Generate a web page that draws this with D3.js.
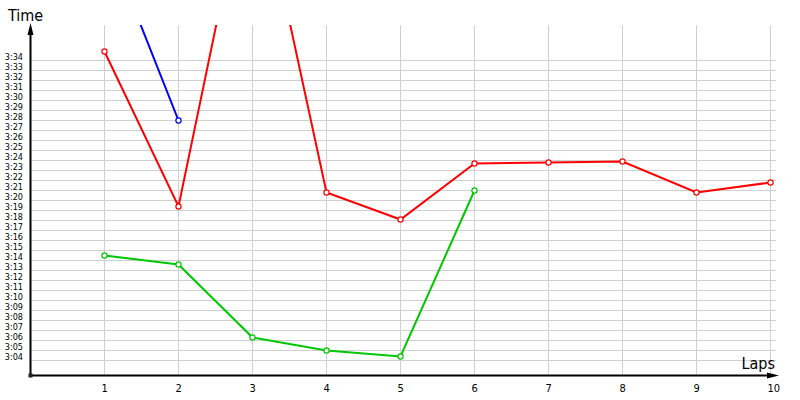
<!DOCTYPE html>
<html>
<head>
<meta charset="utf-8">
<script src="https://cdnjs.cloudflare.com/ajax/libs/d3/7.8.5/d3.min.js"></script>
<style>
  body { margin: 0; background: #fff; }
  text { font-family: "DejaVu Sans Condensed", "Liberation Sans", sans-serif; fill: #000; }
</style>
</head>
<body>
<script>
// lap times in seconds
const laps = [1, 2, 3, 4, 5, 6, 7, 8, 9, 10]
const redTimes = [214.9, 199.4, 235.0, 200.8, 198.1, 203.7, 203.8, 203.9, 200.8, 201.8]
const blueTimes = [226.7, 208.0]
const greenTimes = [194.5, 193.6, 186.3, 185.0, 184.4, 201.0]
const timeTicks = d3.range(184, 215)

const w = 800
const h = 400

const svg = d3.select("body")
  .append("svg")
  .attr("width", w)
  .attr("height", h)

const xScale = d3.scaleLinear()
  .domain([0, 10])
  .range([30.5, 770.5])

const yScale = d3.scaleLinear()
  .domain([182.5, 217.5])
  .range([375.5, 25.5])

const fmt = s => Math.floor(s / 60) + ":" + String(s % 60).padStart(2, "0")

// grid
svg.append("g")
  .selectAll("line")
  .data(timeTicks)
  .enter()
  .append("line")
  .attr("x1", 30)
  .attr("x2", 776)
  .attr("y1", d => yScale(d))
  .attr("y2", d => yScale(d))
  .attr("stroke", "#d0d0d0")

svg.append("g")
  .selectAll("line")
  .data(laps)
  .enter()
  .append("line")
  .attr("x1", d => xScale(d))
  .attr("x2", d => xScale(d))
  .attr("y1", 25)
  .attr("y2", 375)
  .attr("stroke", "#d0d0d0")

// y tick labels sit just above their grid line
svg.append("g")
  .selectAll("text")
  .data(timeTicks)
  .enter()
  .append("text")
  .attr("x", 23)
  .attr("y", d => yScale(d) - 1)
  .attr("text-anchor", "end")
  .style("font-size", "9px")
  .text(d => fmt(d))

svg.append("g")
  .selectAll("text")
  .data(laps)
  .enter()
  .append("text")
  .attr("x", d => xScale(d) - 3)
  .attr("y", 392)
  .style("font-size", "11px")
  .text(d => d)

// axes with arrows
svg.append("line")
  .attr("x1", 30.5).attr("x2", 770)
  .attr("y1", 375.5).attr("y2", 375.5)
  .attr("stroke", "#000")
  .attr("stroke-width", 2)
svg.append("line")
  .attr("x1", 30.5).attr("x2", 30.5)
  .attr("y1", 375.5).attr("y2", 30)
  .attr("stroke", "#000")
  .attr("stroke-width", 2)
svg.append("path")
  .attr("d", "M30.5,23 L27.5,35 L33.5,35 Z")
  .attr("fill", "#000")
svg.append("path")
  .attr("d", "M779,375.5 L767,372.5 L767,378.5 Z")
  .attr("fill", "#000")
svg.append("rect")
  .attr("x", 28.5).attr("y", 373.5)
  .attr("width", 4).attr("height", 4)
  .attr("fill", "#222")

svg.append("text")
  .attr("x", 8)
  .attr("y", 21)
  .style("font-size", "16px")
  .text("Time")

svg.append("text")
  .attr("x", 775)
  .attr("y", 369)
  .attr("text-anchor", "end")
  .style("font-size", "16px")
  .text("Laps")

// series, clipped to the plot area
svg.append("clipPath")
  .attr("id", "plot")
  .append("rect")
  .attr("x", 30).attr("y", 25)
  .attr("width", 750).attr("height", 350)

const series = [
  { color: "#ff0000", times: redTimes },
  { color: "#0000ff", times: blueTimes },
  { color: "#00c800", times: greenTimes }
]

const line = d3.line()
  .x((d, i) => xScale(laps[i]))
  .y(d => yScale(d))

const groups = svg.selectAll(".series")
  .data(series)
  .enter()
  .append("g")
  .attr("class", "series")
  .attr("clip-path", "url(#plot)")

groups.append("path")
  .attr("d", d => line(d.times))
  .attr("fill", "none")
  .attr("stroke", d => d.color)
  .attr("stroke-width", 2)

groups.each(function (s) {
  d3.select(this)
    .selectAll("circle")
    .data(s.times)
    .enter()
    .append("circle")
    .attr("cx", (d, i) => xScale(laps[i]))
    .attr("cy", d => yScale(d))
    .attr("r", 2.6)
    .attr("fill", "#fff")
    .attr("stroke", s.color)
    .attr("stroke-width", 1.2)
})
</script>
</body>
</html>
